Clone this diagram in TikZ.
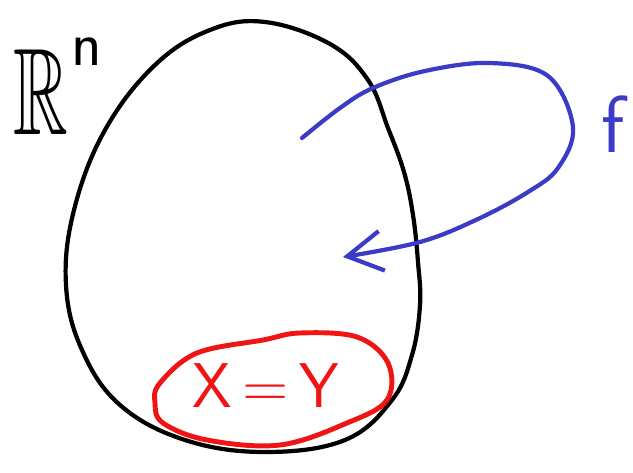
\documentclass[tikz,border=0pt]{standalone}
\usepackage{amsmath,amssymb}
\usepackage{xcolor}
\usepackage{tikz}
\usetikzlibrary{arrows.meta}

\definecolor{penblue}{RGB}{59,59,200}
\definecolor{penred}{RGB}{240,20,20}

\begin{document}
\begin{tikzpicture}[
      x=0.02cm, y=-0.02cm,
      line cap=round, line join=round,
      blob/.style={draw=black, line width=2.4pt},
      map/.style={draw=penblue, line width=2.4pt,
                  -{Straight Barb[length=7mm, width=8mm, line width=2.4pt]}},
      region/.style={draw=penred, line width=2.8pt},
      lbl/.style={inner sep=0pt},
  ]

  % Canvas
  \useasboundingbox (0,0) rectangle (633,473);

  % The space
  \draw[blob] plot[smooth cycle, tension=0.65] coordinates {
      (265,22) (330,44) (368,80) (388,128) (404,172) (413,215) (418,262)
      (420,305) (412,355) (392,400) (345,440) (265,452) (185,440)
      (120,405) (82,350) (66,285) (74,210) (105,130) (155,65) (210,30)};
  \node[lbl] (space) at (41,92)
      {\scalebox{0.8}[1.3]{\fontsize{54}{60}\selectfont$\mathbb{R}$}};
  \node[lbl] (dim) at (87,52) {\fontsize{36}{40}\sffamily n};

  % The map f, looping out and back in
  \draw[map] plot[smooth, tension=0.6] coordinates {
      (302,138) (340,108) (373,88) (425,71) (490,63) (548,76) (573,127)
      (558,168) (528,192) (478,219) (420,242) (343,257)};
  \node[lbl, text=penblue] (fname) at (613,124) {\fontsize{46}{50}\sffamily f};

  % Fixed-point set
  \draw[region] plot[smooth cycle, tension=0.6] coordinates {
      (160,383) (197,353) (263,340) (300,333) (357,337) (388,363)
      (387,400) (347,423) (280,445) (207,440) (163,423) (155,403)};
  \node[lbl, text=penred] (fix) at (266,386)
      {\fontsize{36}{40}\sffamily X\,=\,Y};

  \end{tikzpicture}
\end{document}
